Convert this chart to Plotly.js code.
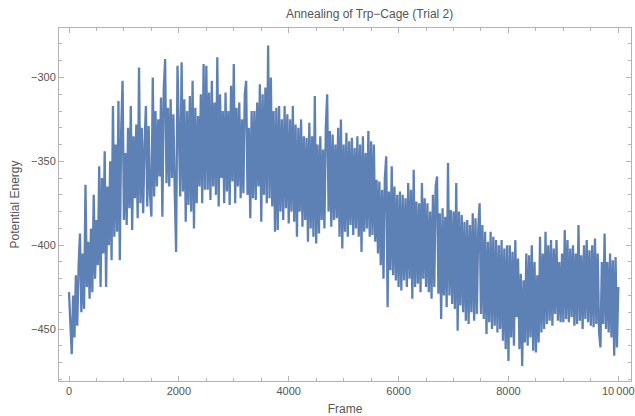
<!DOCTYPE html>
<html>
<head>
<meta charset="utf-8">
<script src="https://cdn.plot.ly/plotly-3.0.1.min.js"></script>
<style>html,body{margin:0;padding:0;background:#fff;}#chart{width:635px;height:416px;}</style>
</head>
<body>
<div id="chart"></div>
<script>
var frameStep = 25;
var energyA = [ // frames 0 - 2475
-428,-450,-465,-430,-455,-418,-448,-412,-393,-440,-405,-438,-364,-425,-398,-432,-390,-428,-370,-420,
-385,-412,-353,-425,-360,-405,-344,-425,-365,-400,-350,-409,-317,-395,-340,-392,-314,-409,-332,-302,
-385,-345,-388,-330,-378,-317,-391,-335,-372,-328,-384,-294,-375,-330,-381,-340,-317,-377,-329,-370,
-383,-300,-371,-320,-365,-325,-359,-312,-383,-307,-289,-363,-318,-365,-313,-360,-322,-368,-404,-293,
-340,-371,-291,-368,-313,-386,-320,-376,-311,-380,-302,-390,-318,-375,-323,-365,-310,-375,-292,-367
];
var energyB = [ // frames 2500 - 4975
-293,-367,-309,-373,-302,-365,-315,-370,-288,-377,-310,-360,-320,-375,-309,-368,-320,-376,-305,-362,
-292,-375,-318,-365,-315,-372,-325,-369,-310,-302,-370,-330,-384,-320,-372,-320,-373,-315,-365,-304,
-386,-310,-370,-306,-375,-281,-372,-300,-377,-320,-392,-318,-391,-317,-380,-325,-385,-317,-378,-322,
-387,-325,-380,-317,-386,-328,-395,-330,-380,-325,-389,-335,-385,-336,-398,-327,-390,-335,-395,-311,
-399,-340,-393,-335,-385,-343,-390,-330,-310,-380,-332,-389,-334,-385,-340,-384,-330,-395,-325,-402
];
var energyC = [ // frames 5000 - 7475
-340,-392,-333,-395,-338,-388,-336,-394,-342,-390,-335,-395,-340,-404,-335,-392,-345,-390,-332,-395,
-338,-394,-340,-398,-361,-405,-362,-412,-367,-420,-360,-347,-437,-368,-415,-353,-418,-365,-421,-370,
-425,-368,-427,-370,-421,-372,-425,-363,-420,-367,-432,-355,-425,-374,-423,-375,-428,-363,-420,-372,
-425,-375,-428,-380,-432,-370,-425,-365,-359,-429,-381,-444,-378,-430,-383,-437,-351,-430,-379,-435,
-380,-438,-363,-451,-380,-436,-382,-440,-386,-445,-385,-447,-388,-440,-381,-445,-384,-441,-390,-375
];
var energyD = [ // frames 7500 - 10000
-441,-388,-444,-392,-453,-398,-446,-392,-450,-395,-448,-397,-452,-400,-450,-397,-457,-402,-462,-400,
-469,-400,-455,-404,-460,-397,-443,-408,-462,-417,-472,-421,-458,-405,-460,-406,-455,-400,-463,-410,
-464,-418,-458,-395,-452,-405,-450,-392,-447,-400,-445,-397,-448,-402,-441,-397,-445,-410,-446,-405,
-446,-391,-444,-397,-446,-402,-443,-400,-448,-405,-447,-388,-445,-406,-450,-400,-444,-397,-446,-403,
-448,-400,-449,-396,-447,-405,-452,-461,-410,-447,-393,-450,-410,-452,-405,-455,-409,-466,-407,-461,
-425
];
var energy = energyA.concat(energyB, energyC, energyD);
var frames = energy.map(function(_, i){ return i * frameStep; });

var xTickVals = [0, 2000, 4000, 6000, 8000, 10000];
var xTickText = ['0', '2000', '4000', '6000', '8000', '10\u2009000'];
var yTickVals = [-450, -400, -350, -300];
var yTickText = ['\u2212450', '\u2212400', '\u2212350', '\u2212300'];

var axisColor = '#b3b3b3';
var textColor = '#555555';
var fontFam = 'Liberation Sans, Arial, sans-serif';

var trace = {
  x: frames, y: energy, type: 'scatter', mode: 'lines',
  line: {color: '#5e81b5', width: 2.3},
  hoverinfo: 'none'
};

var layout = {
  width: 635, height: 416,
  margin: {l: 59, r: 4, t: 28, b: 35},
  paper_bgcolor: '#fff', plot_bgcolor: '#fff',
  showlegend: false,
  font: {family: fontFam, color: textColor, size: 11},
  title: {text: 'Annealing of Trp\u2212Cage (Trial 2)', x: 0.543, xref: 'paper', xanchor: 'center',
          y: 1 - 14/416, yref: 'container', yanchor: 'middle',
          font: {family: fontFam, size: 12, color: textColor}},
  xaxis: {
    range: [-182, 10231], showgrid: false, zeroline: false,
    showline: true, linecolor: axisColor, linewidth: 1, mirror: 'allticks',
    ticks: 'inside', ticklen: 5, tickcolor: axisColor, tickwidth: 1,
    tickmode: 'array', tickvals: xTickVals, ticktext: xTickText,
    tickfont: {family: fontFam, size: 11, color: textColor},
    minor: {ticks: 'inside', dtick: 500, tick0: 0, ticklen: 3, tickcolor: axisColor, showgrid: false},
    title: {text: 'Frame', standoff: 14, font: {family: fontFam, size: 12, color: textColor}},
    automargin: false
  },
  yaxis: {
    range: [-481, -270.5], showgrid: false, zeroline: false,
    showline: true, linecolor: axisColor, linewidth: 1, mirror: 'allticks',
    ticks: 'inside', ticklen: 5, tickcolor: axisColor, tickwidth: 1,
    tickmode: 'array', tickvals: yTickVals, ticktext: yTickText,
    tickfont: {family: fontFam, size: 11, color: textColor},
    minor: {ticks: 'inside', dtick: 10, tick0: 0, ticklen: 3, tickcolor: axisColor, showgrid: false},
    title: {text: 'Potential Energy', standoff: 8, font: {family: fontFam, size: 12, color: textColor}},
    automargin: false
  }
};

Plotly.newPlot('chart', [trace], layout, {staticPlot: true, displayModeBar: false});
</script>
</body>
</html>
